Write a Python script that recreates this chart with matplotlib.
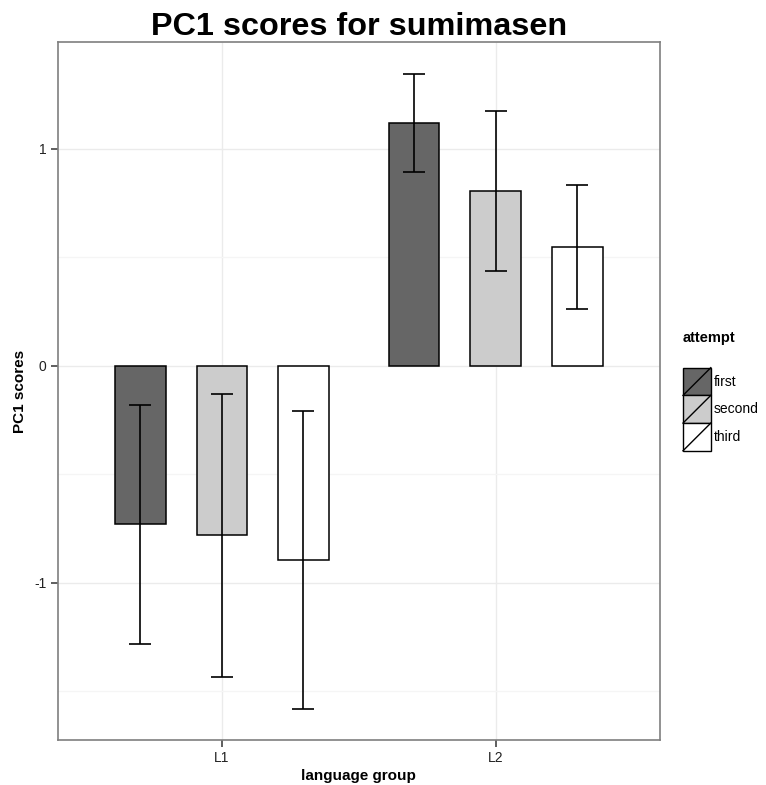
import numpy as np
import matplotlib
matplotlib.use('Agg')
import matplotlib.pyplot as plt
from matplotlib.patches import Rectangle
from matplotlib.lines import Line2D
from matplotlib.legend_handler import HandlerBase

plt.rcParams['font.family'] = ['Liberation Sans', 'DejaVu Sans']

groups = ['L1', 'L2']
attempts = ['first', 'second', 'third']
fills = ['#666666', '#cccccc', '#ffffff']

# mean PC1 score per attempt, one list per language group
means_L1 = [-0.729, -0.780, -0.895]
means_L2 = [1.120, 0.806, 0.548]
# half-width of the error bars
err_L1 = [0.551, 0.653, 0.686]
err_L2 = [0.226, 0.367, 0.287]

means = np.array([means_L1, means_L2])
errs = np.array([err_L1, err_L2])


class SlashKey(HandlerBase):
    # filled square with a diagonal stroke, like ggplot's bar keys
    def create_artists(self, legend, orig_handle, xdescent, ydescent,
                       width, height, fontsize, trans):
        r = Rectangle((-xdescent, -ydescent), width, height,
                      facecolor=orig_handle.get_facecolor(),
                      edgecolor='black', lw=1.0, transform=trans)
        l = Line2D([-xdescent, -xdescent + width],
                   [-ydescent, -ydescent + height],
                   color='black', lw=1.0, transform=trans)
        return [r, l]


fig = plt.figure(figsize=(7.66, 7.85), dpi=100)
ax = fig.add_axes([0.0751, 0.0573, 0.7866, 0.8892])

x = np.arange(1, len(groups) + 1)
dodge = 0.298
width = 0.185

for i, att in enumerate(attempts):
    xs = x + (i - 1) * dodge
    ax.bar(xs, means[:, i], width=width, color=fills[i],
           edgecolor='black', linewidth=1.1, zorder=3, label=att)
    ax.errorbar(xs, means[:, i], yerr=errs[:, i], fmt='none',
                ecolor='black', elinewidth=1.2, capsize=7.9,
                capthick=1.2, zorder=4)

ax.set_xlim(0.4, 2.6)
ax.set_ylim(-1.724, 1.493)
ax.set_xticks(x)
ax.set_xticklabels(groups)
ax.set_yticks([-1, 0, 1])
ax.set_yticklabels(['-1', '0', '1'])
ax.set_yticks([-1.5, -0.5, 0.5], minor=True)
ax.grid(True, which='major', color='#ebebeb', lw=1.0, zorder=0)
ax.grid(True, which='minor', axis='y', color='#f5f5f5', lw=1.0, zorder=0)
ax.set_axisbelow(True)
for s in ax.spines.values():
    s.set_color('#7f7f7f')
    s.set_linewidth(1.2)
ax.tick_params(axis='both', which='major', length=5, width=1.1,
               color='#333333', labelsize=10, labelcolor='#222222', pad=3)
ax.tick_params(axis='both', which='minor', length=0)

ax.set_xlabel('language group', fontsize=11, fontweight='bold', labelpad=3)
ax.set_ylabel('PC1 scores', fontsize=11, fontweight='bold', labelpad=5)
ax.set_title('PC1 scores for sumimasen', fontsize=23.3, fontweight='bold', pad=4)

handles = [Rectangle((0, 0), 1, 1, facecolor=c) for c in fills]
fig.text(683 / 766, 1 - 338 / 785, 'attempt', fontsize=10.5,
         fontweight='bold', ha='left', va='center')
fig.legend(handles, attempts, handler_map={Rectangle: SlashKey()},
           loc='upper left', bbox_to_anchor=(683 / 766, 1 - 367.7 / 785),
           frameon=False, borderpad=0, borderaxespad=0, fontsize=10,
           handlelength=2.0, handleheight=2.69, labelspacing=0,
           handletextpad=0.2)

fig.savefig('out.png', dpi=100)
